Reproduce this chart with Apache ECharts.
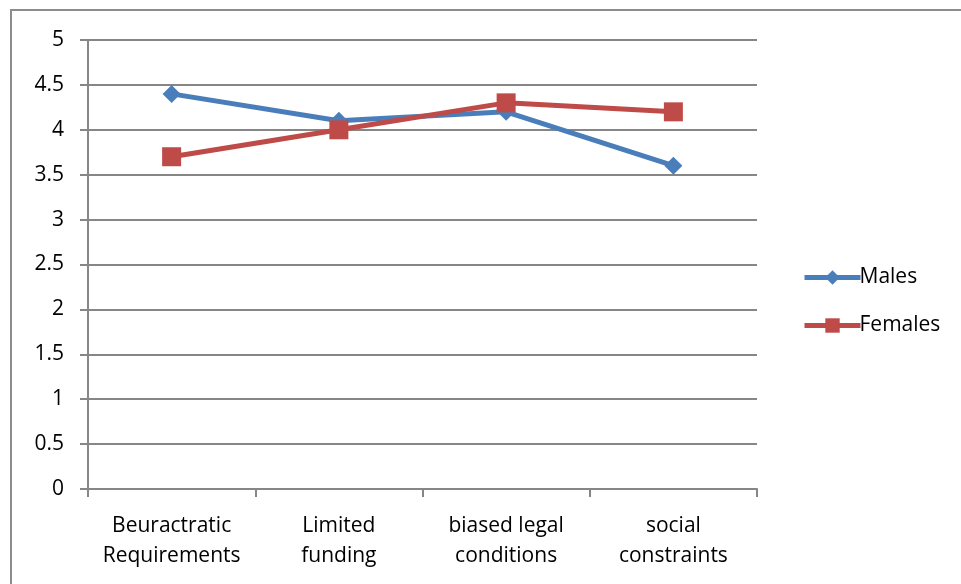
<!DOCTYPE html>
<html><head><meta charset="utf-8">
<script src="https://cdn.jsdelivr.net/npm/echarts@6/dist/echarts.min.js"></script>
<style>html,body{margin:0;padding:0;background:#fff}#c{width:961px;height:584px}</style>
</head><body><div id="c"></div>
<script>
var categories = ['Beuractratic\nRequirements', 'Limited\nfunding', 'biased legal\nconditions', 'social\nconstraints'];
var males = [4.4, 4.1, 4.2, 3.6];
var females = [3.7, 4.0, 4.3, 4.2];
var yTicks = [0, 0.5, 1, 1.5, 2, 2.5, 3, 3.5, 4, 4.5, 5];

var FONT = '"Open Sans", sans-serif';
var chart = echarts.init(document.getElementById('c'));
chart.setOption({
  animation: false,
  graphic: [{type: 'rect', shape: {x: 11, y: 10, width: 970, height: 600}, style: {fill: 'none', stroke: '#8c8c8c', lineWidth: 2}, silent: true}],
  grid: {left: 88, right: 204, top: 40, bottom: 95, containLabel: false},
  legend: {
    orient: 'vertical', left: 797, top: 262, itemGap: 27, itemWidth: 56, itemHeight: 18,
    textStyle: {fontFamily: FONT, fontSize: 21, color: '#000', padding: [0, 0, 0, -6]},
    data: [
      {name: 'Males', lineStyle: {width: 5}},
      {name: 'Females', lineStyle: {width: 5}}
    ]
  },
  xAxis: {
    type: 'category', data: categories, boundaryGap: true,
    axisLine: {lineStyle: {color: '#868686', width: 2}},
    axisTick: {show: true, length: 8, lineStyle: {color: '#868686', width: 2}},
    axisLabel: {fontFamily: FONT, fontSize: 21, color: '#000', margin: 22, lineHeight: 30, interval: 0}
  },
  yAxis: {
    type: 'value', min: 0, max: 5, interval: 0.5,
    axisLine: {show: true, lineStyle: {color: '#868686', width: 2}},
    axisTick: {show: true, length: 8, lineStyle: {color: '#868686', width: 2}},
    splitLine: {lineStyle: {color: '#868686', width: 2}},
    axisLabel: {fontFamily: FONT, fontSize: 21, color: '#000', margin: 24,
      formatter: function (v) { return yTicks.indexOf(v) >= 0 ? String(v) : ''; }}
  },
  series: [
    {name: 'Males', type: 'line', data: males, symbol: 'diamond', symbolSize: 18,
      lineStyle: {color: '#4a7ebb', width: 5}, itemStyle: {color: '#4a7ebb'}},
    {name: 'Females', type: 'line', data: females, symbol: 'rect', symbolSize: 19,
      lineStyle: {color: '#be4b48', width: 5}, itemStyle: {color: '#be4b48'}}
  ]
});
</script></body></html>
